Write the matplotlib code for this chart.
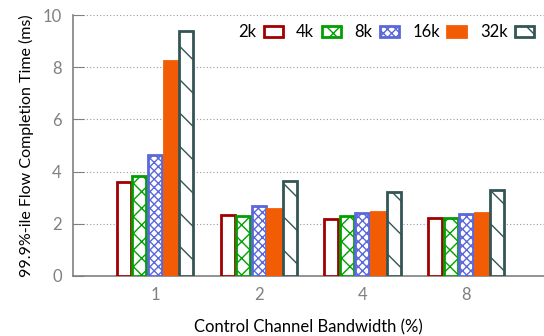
import numpy as np
import matplotlib.pyplot as plt

plt.rcParams['font.family'] = ['Lato', 'DejaVu Sans']
plt.rcParams['hatch.linewidth'] = 1.0

# Control channel bandwidth settings (%) and per-size 99.9th percentile FCT (ms)
bandwidths = ['1', '2', '4', '8']
sizes = ['2k', '4k', '8k', '16k', '32k']
fct_2k = [3.6, 2.33, 2.18, 2.22]
fct_4k = [3.83, 2.3, 2.3, 2.22]
fct_8k = [4.65, 2.68, 2.4, 2.38]
fct_16k = [8.23, 2.57, 2.45, 2.41]
fct_32k = [9.4, 3.64, 3.22, 3.28]

series = [fct_2k, fct_4k, fct_8k, fct_16k, fct_32k]
edge_colors = ['#a00000', '#00a000', '#5a68d8', '#f25c05', '#335555']
face_colors = ['white', 'white', 'white', '#f25c05', 'white']
hatches = [None, 'xx', 'xxxx', None, '\\']

fig = plt.figure(figsize=(5.44, 3.36), dpi=100)
ax = fig.add_axes([73 / 544, 60 / 336, 1 - 73 / 544, 261 / 336])

x = np.arange(len(bandwidths))
step = 0.15
width = 0.135
for i, vals in enumerate(series):
    plt.rcParams['hatch.color'] = edge_colors[i]
    ax.bar(x + (i - 2) * step, vals, width,
           facecolor=face_colors[i], edgecolor=edge_colors[i],
           hatch=hatches[i], linewidth=2.0, label=sizes[i], zorder=3)

ax.set_xlim(-0.79, 3.75)
ax.set_ylim(0, 10)
ax.set_yticks([0, 2, 4, 6, 8, 10])
ax.set_xticks(x)
ax.set_xticklabels(bandwidths)
ax.tick_params(axis='x', length=0, pad=8, labelsize=12, labelcolor='#808080')
ax.tick_params(axis='y', direction='in', length=8, color='#808080', pad=8,
               labelsize=12, labelcolor='#808080')
ax.yaxis.grid(True, linestyle=(0, (1, 2)), color='#999999', linewidth=0.8, zorder=0)

for side in ['top', 'right']:
    ax.spines[side].set_visible(False)
for side in ['left', 'bottom']:
    ax.spines[side].set_color('#808080')
    ax.spines[side].set_linewidth(1.2)

ax.set_xlabel('Control Channel Bandwidth (%)', fontsize=12, labelpad=12)
ax.set_ylabel('99.9%-ile Flow Completion Time (ms)', fontsize=11.5, labelpad=6)

ax.legend(ncol=5, loc='center right', bbox_to_anchor=(0.979, 0.934),
          frameon=False, markerfirst=False, fontsize=12, borderaxespad=0,
          borderpad=0, handlelength=1.15, handleheight=0.6,
          columnspacing=0.8, handletextpad=0.45)

fig.savefig('out.png', dpi=100)
